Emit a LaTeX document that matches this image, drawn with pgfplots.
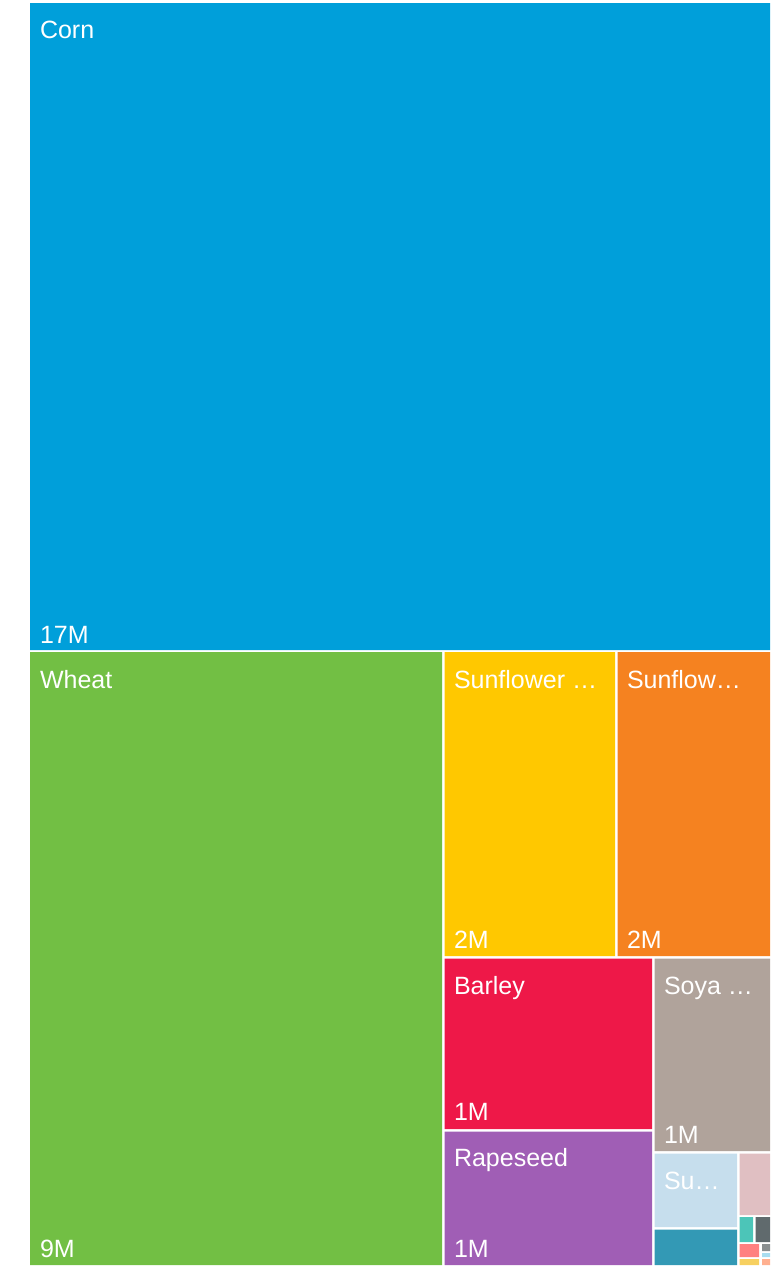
\documentclass[border=0pt]{standalone}
\usepackage{fontspec}
\setmainfont{Liberation Sans}
\usepackage{pgfplots}
\pgfplotsset{compat=1.18}
\definecolor{cCorn}{HTML}{009FDA}
\definecolor{cWheat}{HTML}{72BF44}
\definecolor{cSunA}{HTML}{FFC800}
\definecolor{cSunB}{HTML}{F58220}
\definecolor{cBarley}{HTML}{EE1848}
\definecolor{cRape}{HTML}{A05EB5}
\definecolor{cSoya}{HTML}{B0A39B}
\definecolor{cSu}{HTML}{C6DEED}
\definecolor{cTealB}{HTML}{3399B5}
\definecolor{cPink}{HTML}{E0BFC2}
\definecolor{cTealG}{HTML}{4CC5B8}
\definecolor{cDGray}{HTML}{606A6D}
\definecolor{cSalmon}{HTML}{FF8080}
\definecolor{cSGray}{HTML}{8A8F90}
\definecolor{cLBlue}{HTML}{A8DDF0}
\definecolor{cYellow}{HTML}{F7D060}
\definecolor{cPeach}{HTML}{FFB090}
\newcommand{\tile}[5]{\addplot[fill=#5, draw=none, mark=none] coordinates {(#1,#2) (#3,#2) (#3,#4) (#1,#4) (#1,#2)};}
\newcommand{\lbl}{\fontsize{25}{29}\selectfont}
\tikzset{lab/.style={text=white, font=\lbl, inner sep=0pt, outer sep=0pt, anchor=base west}}
\begin{document}
\begin{tikzpicture}
\begin{axis}[
  scale only axis, width=776pt, height=1266pt,
  xmin=0, xmax=776, ymin=0, ymax=1266, y dir=reverse,
  hide axis, clip=false,
]
\path (axis cs:0,0) rectangle (axis cs:776,1266);
% tiles: x0 y0 x1 y1 colour
\tile{30}{3}{770}{650}{cCorn}
\tile{30}{652}{442}{1265}{cWheat}
\tile{444.5}{652}{615}{956}{cSunA}
\tile{617.5}{652}{770}{956}{cSunB}
\tile{444.5}{958.5}{652}{1129}{cBarley}
\tile{444.5}{1131.5}{652}{1265}{cRape}
\tile{654.5}{958.5}{770}{1151}{cSoya}
\tile{654.5}{1153.5}{737}{1227}{cSu}
\tile{654.5}{1229.5}{737}{1265}{cTealB}
\tile{739.5}{1153.5}{770}{1215}{cPink}
\tile{739.5}{1217}{753}{1242}{cTealG}
\tile{755.5}{1217}{770}{1242}{cDGray}
\tile{739.5}{1244}{759}{1257}{cSalmon}
\tile{762}{1244}{770}{1251}{cSGray}
\tile{762}{1253}{770}{1257}{cLBlue}
\tile{739.5}{1259}{759}{1265}{cYellow}
\tile{762}{1259}{770}{1265}{cPeach}
% labels
\node[lab] at (axis cs:40,38) {Corn};
\node[lab] at (axis cs:40,643) {17M};
\node[lab] at (axis cs:40,688) {Wheat};
\node[lab] at (axis cs:40,1257) {9M};
\node[lab] at (axis cs:454,688) {Sunflower …};
\node[lab] at (axis cs:454,948) {2M};
\node[lab] at (axis cs:627,688) {Sunflow…};
\node[lab] at (axis cs:627,948) {2M};
\node[lab] at (axis cs:454,994) {Barley};
\node[lab] at (axis cs:454,1120) {1M};
\node[lab] at (axis cs:664,994) {Soya …};
\node[lab] at (axis cs:664,1143) {1M};
\node[lab] at (axis cs:454,1166) {Rapeseed};
\node[lab] at (axis cs:454,1257) {1M};
\node[lab] at (axis cs:664,1189) {Su…};
\end{axis}
\end{tikzpicture}
\end{document}
